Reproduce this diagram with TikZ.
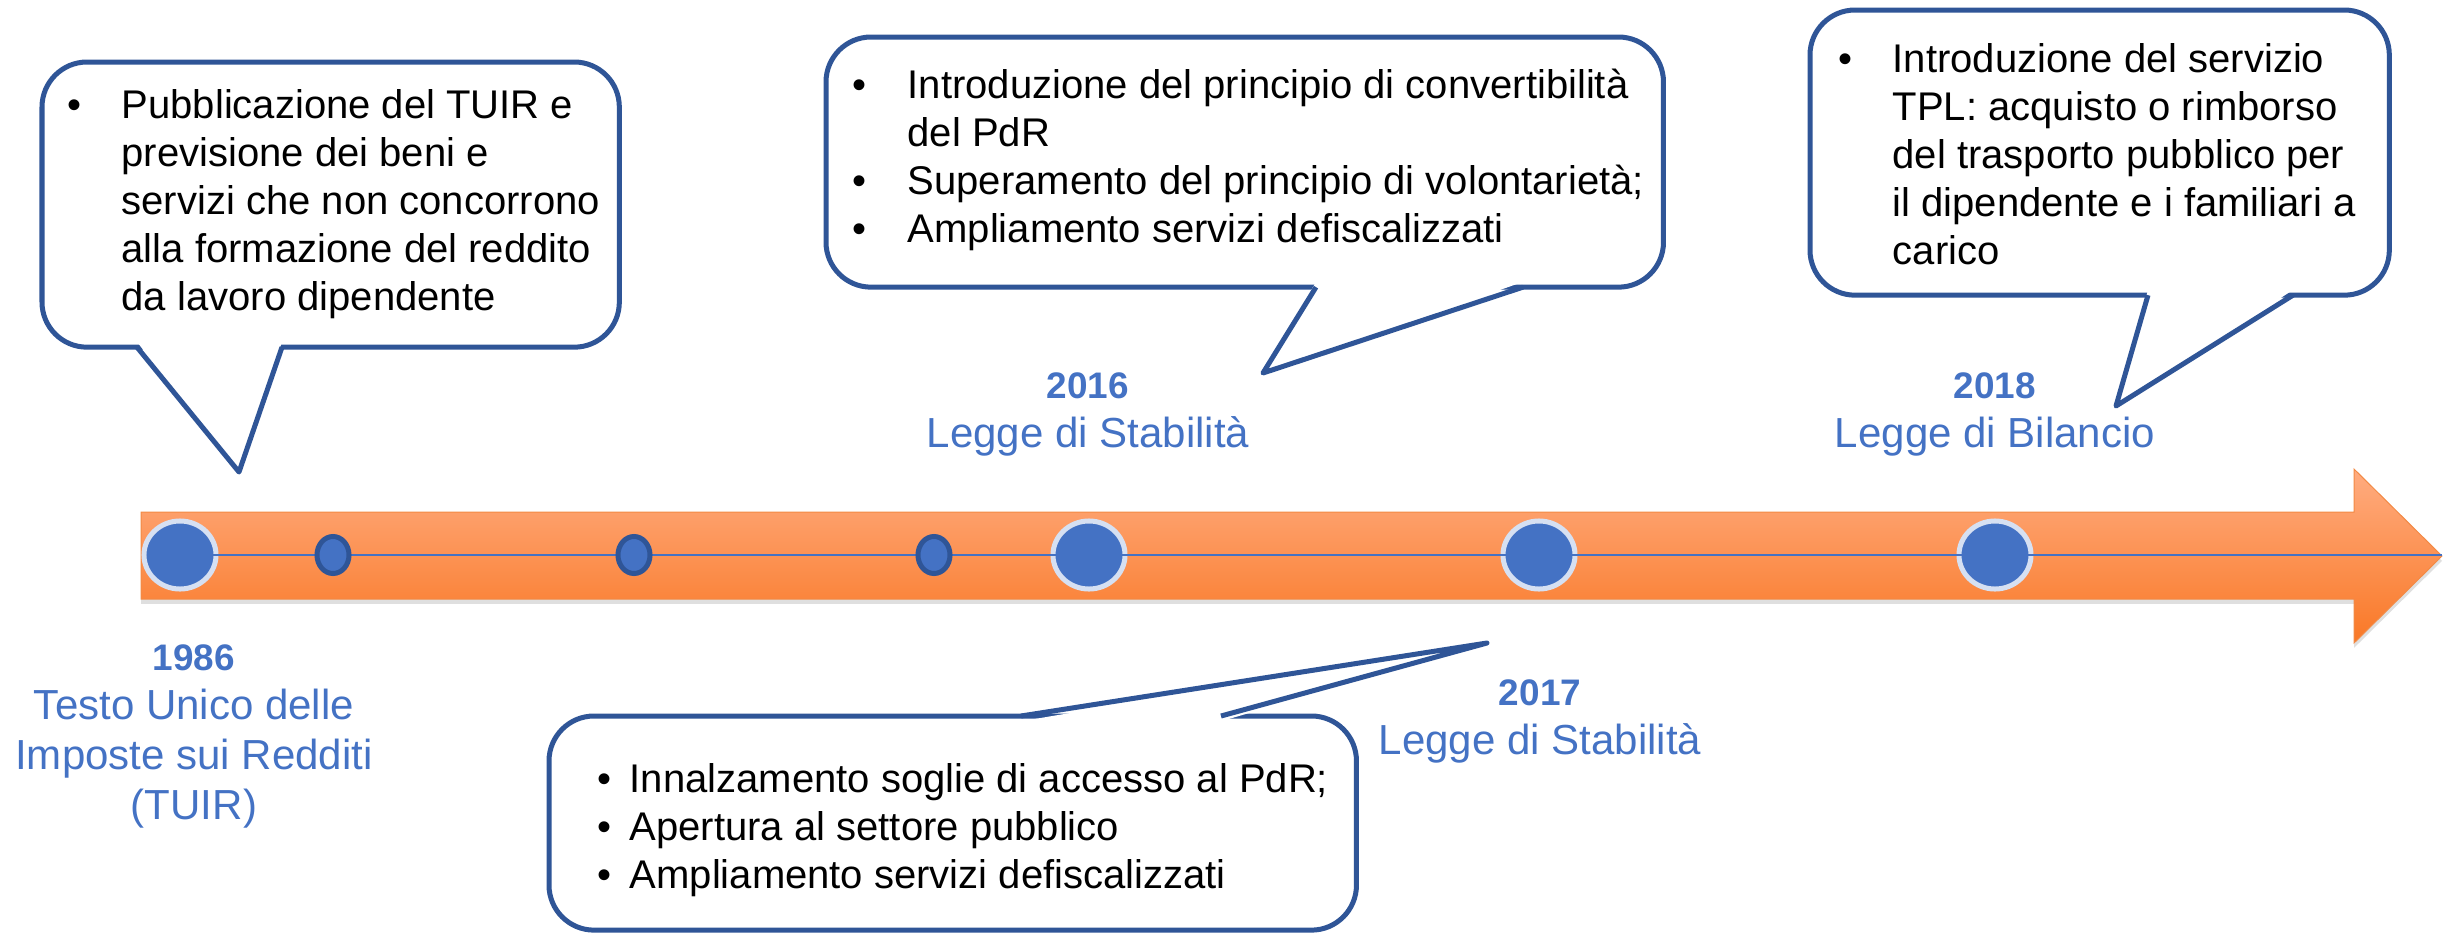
\documentclass[tikz,border=0pt]{standalone}
\usepackage{fontspec}
\setmainfont{Liberation Sans}
\usepackage{tikz}
\usetikzlibrary{positioning,shapes.geometric,shadows}

\definecolor{lineblue}{HTML}{4472C4}
\definecolor{rimblue}{HTML}{2F5597}
\definecolor{rimpale}{HTML}{D6E0F2}
\definecolor{arrowtop}{HTML}{FFAC80}
\definecolor{arrowbot}{HTML}{F97826}
\definecolor{arrowedge}{HTML}{F28A45}

\begin{document}
\begin{tikzpicture}[
  x=0.01cm, y=-0.01cm,
  bubble/.style={draw=rimblue, line width=0.05cm, fill=white,
    rounded corners=0.45cm, inner sep=0pt, outer sep=0pt, anchor=north west},
  tail/.style={draw=rimblue, line width=0.05cm, line join=round},
  note/.style={inner sep=0pt, anchor=base west,
    font=\fontsize{11.38pt}{13.66pt}\selectfont},
  lbl/.style={inner sep=0pt, anchor=base, text=lineblue,
    font=\fontsize{11.95pt}{14.2pt}\selectfont},
  bigdot/.style={ellipse, fill=lineblue, draw=rimpale, line width=0.05cm,
    minimum width=0.72cm, minimum height=0.68cm, inner sep=0pt},
  smalldot/.style={ellipse, fill=lineblue, draw=rimblue, line width=0.05cm,
    minimum width=0.32cm, minimum height=0.37cm, inner sep=0pt},
  axisline/.style={lineblue, line width=0.025cm}
]
\newcommand\yr[1]{{\fontsize{10.5pt}{14.2pt}\selectfont\bfseries #1}}
\useasboundingbox (0,0) rectangle (2450,933);

% timeline arrow
\path[drop shadow={opacity=0.25, shadow xshift=0pt, shadow yshift=-1.4pt},
  top color=arrowtop, bottom color=arrowbot, draw=arrowedge, line width=0.01cm]
  (141,512) -- (2354,512) -- (2354,469) -- (2442,556)
  -- (2354,643) -- (2354,599) -- (141,599) -- cycle;
\coordinate (tip) at (2442,556);

\node[bigdot] (c1986) at (180,555) {};
\node[bigdot] (c2016) at (1089,555) {};
\node[bigdot] (c2017) at (1539,555) {};
\node[bigdot] (c2018) at (1995,555) {};
\draw[axisline] (c1986.center) -- (c1986.center -| tip);
\foreach \x [count=\i] in {333,634,934}
  \node[smalldot] (s\i) at (\x,555) {};

% labels
\node[lbl] (l1986) at (194,670) {\begin{tabular}[t]{@{}c@{}}
  \yr{1986}\\ Testo Unico delle\\ Imposte sui Redditi\\ (TUIR)\end{tabular}};
\node[lbl] (l2016) at (1088,398) {\begin{tabular}[t]{@{}c@{}}
  \yr{2016}\\ Legge di Stabilità\end{tabular}};
\node[lbl] (l2017) at (1540,705) {\begin{tabular}[t]{@{}c@{}}
  \yr{2017}\\ Legge di Stabilità\end{tabular}};
\node[lbl] (l2018) at (1995,398) {\begin{tabular}[t]{@{}c@{}}
  \yr{2018}\\ Legge di Bilancio\end{tabular}};

% callout 1986
\node[bubble, minimum width=5.77cm, minimum height=2.85cm] (b1986) at (42,62) {};
\coordinate (t1986) at (239,472);
\fill[white] ([yshift=1.5pt]137,0 |- b1986.south) -- (t1986)
  -- ([yshift=1.5pt]282,0 |- b1986.south) -- cycle;
\draw[tail] (137,0 |- b1986.south) -- (t1986) -- (282,0 |- b1986.south);
\node[note] (x1986) at ([shift={(25,56)}]b1986.north west) {%
  \begin{tabular}[t]{@{}p{0.54cm}@{}l@{}}
  \textbullet & Pubblicazione del TUIR e\\
   & previsione dei beni e\\
   & servizi che non concorrono\\
   & alla formazione del reddito\\
   & da lavoro dipendente
  \end{tabular}};

% callout 2016
\node[bubble, minimum width=8.37cm, minimum height=2.50cm] (b2016) at (826,37) {};
\coordinate (t2016) at (1263,373);
\fill[white] ([yshift=1.5pt]1316,0 |- b2016.south) -- (t2016)
  -- ([yshift=1.5pt]1523,0 |- b2016.south) -- cycle;
\draw[tail] (1316,0 |- b2016.south) -- (t2016) -- (1523,0 |- b2016.south);
\node[note] (x2016) at ([shift={(26,61)}]b2016.north west) {%
  \begin{tabular}[t]{@{}p{0.55cm}@{}l@{}}
  \textbullet & Introduzione del principio di convertibilità\\
   & del PdR\\
  \textbullet & Superamento del principio di volontarietà;\\
  \textbullet & Ampliamento servizi defiscalizzati
  \end{tabular}};

% callout 2018
\node[bubble, minimum width=5.79cm, minimum height=2.85cm] (b2018) at (1810,10) {};
\coordinate (t2018) at (2116,406);
\fill[white] ([yshift=1.5pt]2148,0 |- b2018.south) -- (t2018)
  -- ([yshift=1.5pt]2293,0 |- b2018.south) -- cycle;
\draw[tail] (2148,0 |- b2018.south) -- (t2018) -- (2293,0 |- b2018.south);
\node[note] (x2018) at ([shift={(28,62)}]b2018.north west) {%
  \begin{tabular}[t]{@{}p{0.54cm}@{}l@{}}
  \textbullet & Introduzione del servizio\\
   & TPL: acquisto o rimborso\\
   & del trasporto pubblico per\\
   & il dipendente e i familiari a\\
   & carico
  \end{tabular}};

% callout 2017
\node[bubble, minimum width=8.07cm, minimum height=2.14cm] (b2017) at (549,716) {};
\coordinate (t2017) at (1487,643);
\fill[white] ([yshift=-1.5pt]1021,0 |- b2017.north) -- (t2017)
  -- ([yshift=-1.5pt]1221,0 |- b2017.north) -- cycle;
\draw[tail] (1021,0 |- b2017.north) -- (t2017) -- (1221,0 |- b2017.north);
\node[note] (x2017) at ([shift={(48,76)}]b2017.north west) {%
  \begin{tabular}[t]{@{}p{0.32cm}@{}l@{}}
  \textbullet & Innalzamento soglie di accesso al PdR;\\
  \textbullet & Apertura al settore pubblico\\
  \textbullet & Ampliamento servizi defiscalizzati
  \end{tabular}};
\end{tikzpicture}
\end{document}
